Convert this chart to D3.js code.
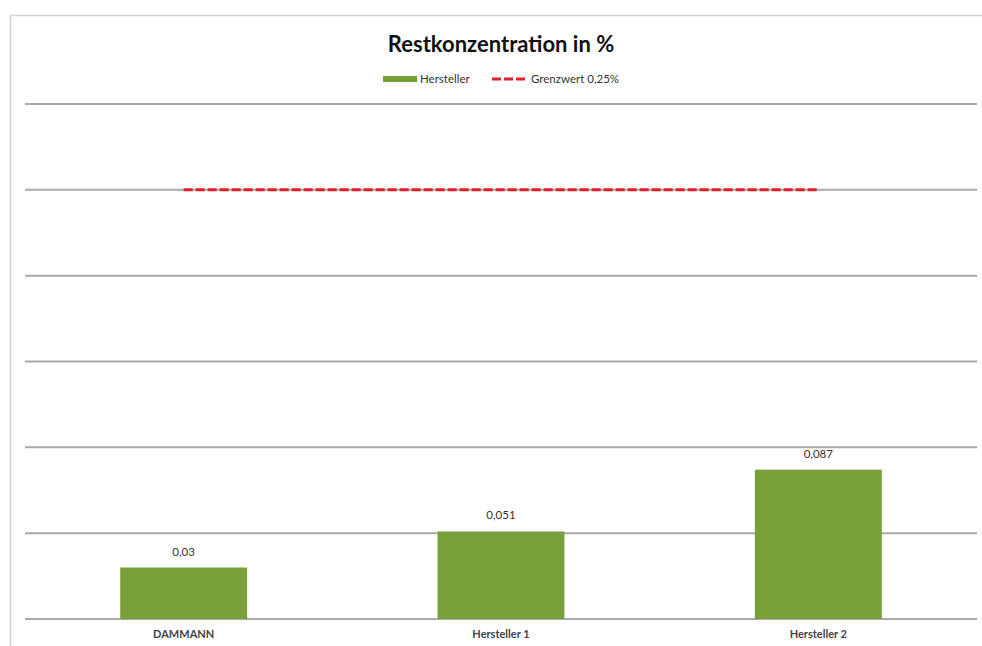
<!DOCTYPE html>
<html>
<head>
<meta charset="utf-8">
<script src="https://cdn.jsdelivr.net/npm/d3@7"></script>
<style>
  body { margin: 0; background: #fff; }
  svg { font-family: Lato, "Open Sans", sans-serif; }
</style>
</head>
<body>
<svg id="chart" width="982" height="646"></svg>
<script>
// chart data
var categories = ["DAMMANN", "Hersteller 1", "Hersteller 2"];
var herstellerValues = [0.03, 0.051, 0.087];
var valueLabels = ["0,03", "0,051", "0,087"];
var grenzwert = 0.25;
var gridTicks = [0, 0.05, 0.1, 0.15, 0.2, 0.25, 0.3];

var svg = d3.select("#chart");

// outer frame of the chart area
svg.append("rect")
  .attr("x", 10.5).attr("y", 15.5)
  .attr("width", 975).attr("height", 640)
  .attr("fill", "#fff")
  .attr("stroke", "#d0d0d0")
  .attr("stroke-width", 1.5);

var plotLeft = 25, plotRight = 977, plotTop = 104, plotBottom = 619;

var x = d3.scaleBand()
  .domain(categories)
  .range([plotLeft, plotRight])
  .paddingInner(0.6)
  .paddingOuter(0.3);

var y = d3.scaleLinear()
  .domain([0, 0.3])
  .range([plotBottom, plotTop]);

// horizontal gridlines
svg.append("g").selectAll("line")
  .data(gridTicks)
  .enter().append("line")
  .attr("x1", plotLeft).attr("x2", plotRight)
  .attr("y1", function(d) { return y(d); })
  .attr("y2", function(d) { return y(d); })
  .attr("stroke", "#a9a9a9")
  .attr("stroke-width", 2);

// bars
svg.append("g").selectAll("rect")
  .data(herstellerValues)
  .enter().append("rect")
  .attr("x", function(d, i) { return x(categories[i]); })
  .attr("y", function(d) { return y(d); })
  .attr("width", x.bandwidth())
  .attr("height", function(d) { return y(0) - y(d); })
  .attr("fill", "#77a03b");

// value labels on top of bars
svg.append("g").selectAll("text")
  .data(herstellerValues)
  .enter().append("text")
  .attr("x", function(d, i) { return x(categories[i]) + x.bandwidth() / 2; })
  .attr("y", function(d) { return y(d) - 12; })
  .attr("text-anchor", "middle")
  .attr("font-size", 11.5)
  .attr("fill", "#333")
  .text(function(d, i) { return valueLabels[i]; });

// limit line from first to last category centre
var lineData = categories.map(function(c) { return [x(c) + x.bandwidth() / 2, y(grenzwert)]; });
svg.append("path")
  .attr("d", d3.line()(lineData))
  .attr("fill", "none")
  .attr("stroke", "#e0202c")
  .attr("stroke-width", 3)
  .attr("stroke-dasharray", "9,3");

// category labels
svg.append("g").selectAll("text")
  .data(categories)
  .enter().append("text")
  .attr("x", function(d) { return x(d) + x.bandwidth() / 2; })
  .attr("y", 638)
  .attr("text-anchor", "middle")
  .attr("font-size", 11)
  .attr("font-weight", "bold")
  .attr("fill", "#444")
  .text(function(d) { return d; });

// title
svg.append("text")
  .attr("x", 501).attr("y", 52)
  .attr("text-anchor", "middle")
  .attr("font-size", 22)
  .attr("font-weight", "bold")
  .attr("fill", "#111")
  .text("Restkonzentration in %");

// legend
var legend = svg.append("g");
legend.append("rect")
  .attr("x", 383).attr("y", 76)
  .attr("width", 34).attr("height", 6)
  .attr("fill", "#77a03b");
legend.append("text")
  .attr("x", 420).attr("y", 83)
  .attr("font-size", 11.5)
  .attr("fill", "#333")
  .text("Hersteller");
legend.append("line")
  .attr("x1", 492).attr("x2", 527)
  .attr("y1", 79).attr("y2", 79)
  .attr("stroke", "#e0202c")
  .attr("stroke-width", 3)
  .attr("stroke-dasharray", "9,3");
legend.append("text")
  .attr("x", 531).attr("y", 83)
  .attr("font-size", 11.5)
  .attr("fill", "#333")
  .text("Grenzwert 0,25%");
</script>
</body>
</html>
